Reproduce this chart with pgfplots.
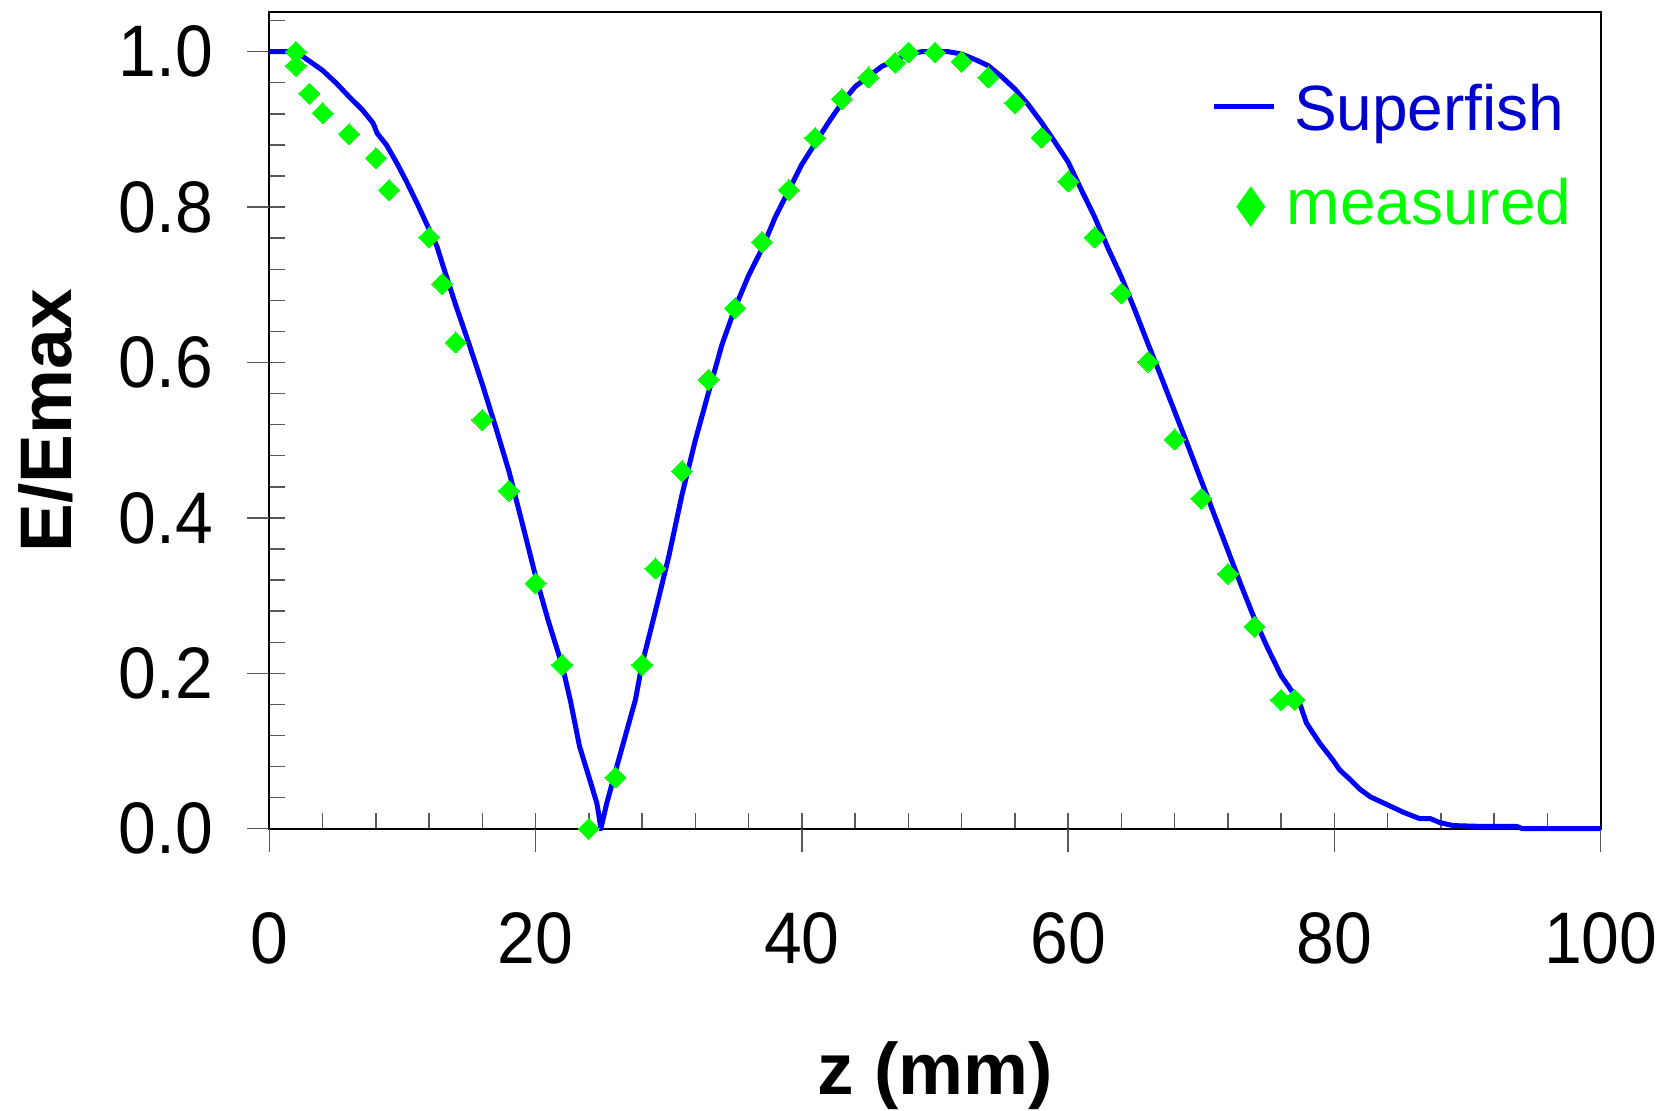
\documentclass[border=0pt]{standalone}
\usepackage{fontspec}
\setmainfont{Liberation Sans}
\newfontfamily\tickfont[FakeStretch=0.93]{Liberation Sans}
\usepackage{pgfplots}
\pgfplotsset{compat=1.18}
\definecolor{superblue}{RGB}{0,0,255}
\definecolor{textblue}{RGB}{0,0,204}
\definecolor{measgreen}{RGB}{0,255,0}
\begin{document}
\begin{tikzpicture}
\begin{axis}[
  at={(0,0)}, anchor=south west,
  scale only axis, width=332.85pt, height=204.1pt,
  xmin=0, xmax=100, ymin=0, ymax=1.0507,
  clip=false,
  axis line style={line width=0.5pt, black},
  xtick={0,20,40,60,80,100},
  ytick={0,0.2,0.4,0.6,0.8,1.0},
  minor xtick={4,8,12,16,24,28,32,36,44,48,52,56,64,68,72,76,84,88,92,96},
  minor ytick={0.04,0.08,0.12,0.16,0.24,0.28,0.32,0.36,0.44,0.48,0.52,0.56,0.64,0.68,0.72,0.76,0.84,0.88,0.92,0.96,1.04},
  xtick pos=left, ytick pos=left,
  tick align=inside, major tick length=4pt, minor tick length=4pt,
  tick style={line width=0.35pt, black!65},
  extra x ticks={0,20,40,60,80,100}, extra x tick labels={},
  extra x tick style={tick align=outside, major tick length=5.75pt},
  extra y ticks={0,0.2,0.4,0.6,0.8,1.0}, extra y tick labels={},
  extra y tick style={tick align=outside, major tick length=5.5pt},
  /pgf/number format/assume math mode=true,
  ticklabel style={font=\tickfont\fontsize{18.25}{20}\selectfont},
  xticklabel style={anchor=north, inner sep=0pt},
  xticklabel shift=20.75pt,
  yticklabel style={anchor=east, inner sep=0pt, /pgf/number format/.cd, fixed, fixed zerofill, precision=1},
  yticklabel shift=13.9pt,
  xlabel={z (mm)}, ylabel={E/Emax},
  label style={font=\bfseries\fontsize{18.25}{20}\selectfont},
  xlabel style={at={(axis description cs:0.5,-0.3258)}, anchor=base},
  ylabel style={at={(axis description cs:-0.1484,0.5)}, anchor=base, rotate=0},
  legend cell align=center,
  legend style={at={(axis description cs:0.708,0.9138)}, anchor=north west,
    draw=none, fill=none, inner sep=0pt, outer sep=0pt,
    row sep=11.5pt, column sep=2.5pt,
    font=\fontsize{16}{18}\selectfont,
    nodes={inner sep=0pt, text height=12pt, text depth=0pt}},
]
\addplot[color=superblue, line width=1.25pt, line join=round,
  legend image code/.code={\draw[superblue, line width=1.25pt] (0pt,0pt) -- (15pt,0pt);}]
table {
x y
0 1.0
1.5 1.0
2 0.998
2.5 0.994
3 0.988
4 0.976
5 0.960
6 0.942
7 0.925
7.8 0.908
8.1 0.895
8.8 0.880
9.6 0.856
10.3 0.833
11.1 0.805
11.8 0.779
12.6 0.749
13 0.727
14 0.674
15 0.624
16 0.572
17 0.517
18 0.460
19 0.393
20 0.325
21 0.265
22 0.210
22.6 0.166
23.3 0.106
24 0.067
24.6 0.033
24.75 0.018
24.9 0.0
25.35 0.033
26.1 0.080
26.8 0.123
27.5 0.166
28 0.212
29 0.280
30 0.350
31 0.430
32 0.500
33 0.562
34 0.623
35 0.671
36 0.712
37 0.746
38 0.787
39 0.821
40 0.855
41 0.882
42 0.909
43 0.934
44 0.955
45 0.968
46 0.981
47 0.989
48 0.997
49 1.0
50 1.0
51 1.0
52 0.997
53 0.990
54 0.982
55 0.968
56 0.952
57 0.932
58 0.909
59 0.884
60 0.858
61 0.822
62 0.787
63 0.747
64 0.710
65 0.668
66 0.624
67 0.581
68 0.537
69 0.493
70 0.448
71 0.403
72 0.358
73 0.313
74 0.270
75 0.232
76 0.197
77 0.172
77.4 0.161
77.9 0.136
78.9 0.110
79.9 0.088
80.4 0.0755
81.2 0.063
81.9 0.051
82.7 0.041
83.2 0.037
84.2 0.029
85.2 0.021
86.4 0.013
87.2 0.013
87.9 0.008
88.9 0.004
90.9 0.003
93.7 0.003
94.1 0
100 0
};
\addlegendentry{\textcolor{textblue}{Superfish}}
\addplot[only marks, color=measgreen, mark=square*, mark size=1.85pt,
  mark options={rotate=45, fill=measgreen, draw=measgreen, line width=0pt},
  legend image code/.code={\path[fill=measgreen] (9.1pt,3.25pt) -- (12.475pt,-1.5pt) -- (9.1pt,-6.25pt) -- (5.725pt,-1.5pt) -- cycle;}]
table {
x y
2 1.0
2 0.982
3 0.946
4 0.921
6 0.894
8 0.863
9 0.822
12 0.761
13 0.701
14 0.626
16 0.526
18 0.435
20 0.316
22 0.211
24 0.0
26 0.066
28 0.211
29 0.335
31 0.460
33 0.578
35 0.670
37 0.755
39 0.822
41 0.889
43 0.939
45 0.967
47 0.986
48 0.999
50 0.999
52 0.987
54 0.967
56 0.934
58 0.889
60 0.833
62 0.761
64 0.689
66 0.601
68 0.501
70 0.425
72 0.328
74 0.260
76 0.166
77 0.166
};
\addlegendentry{\textcolor{measgreen}{measured}}
\end{axis}
\pgfresetboundingbox
\useasboundingbox (-67.33pt,-70.58pt) rectangle (348.18pt,207.18pt);
\end{tikzpicture}
\end{document}
